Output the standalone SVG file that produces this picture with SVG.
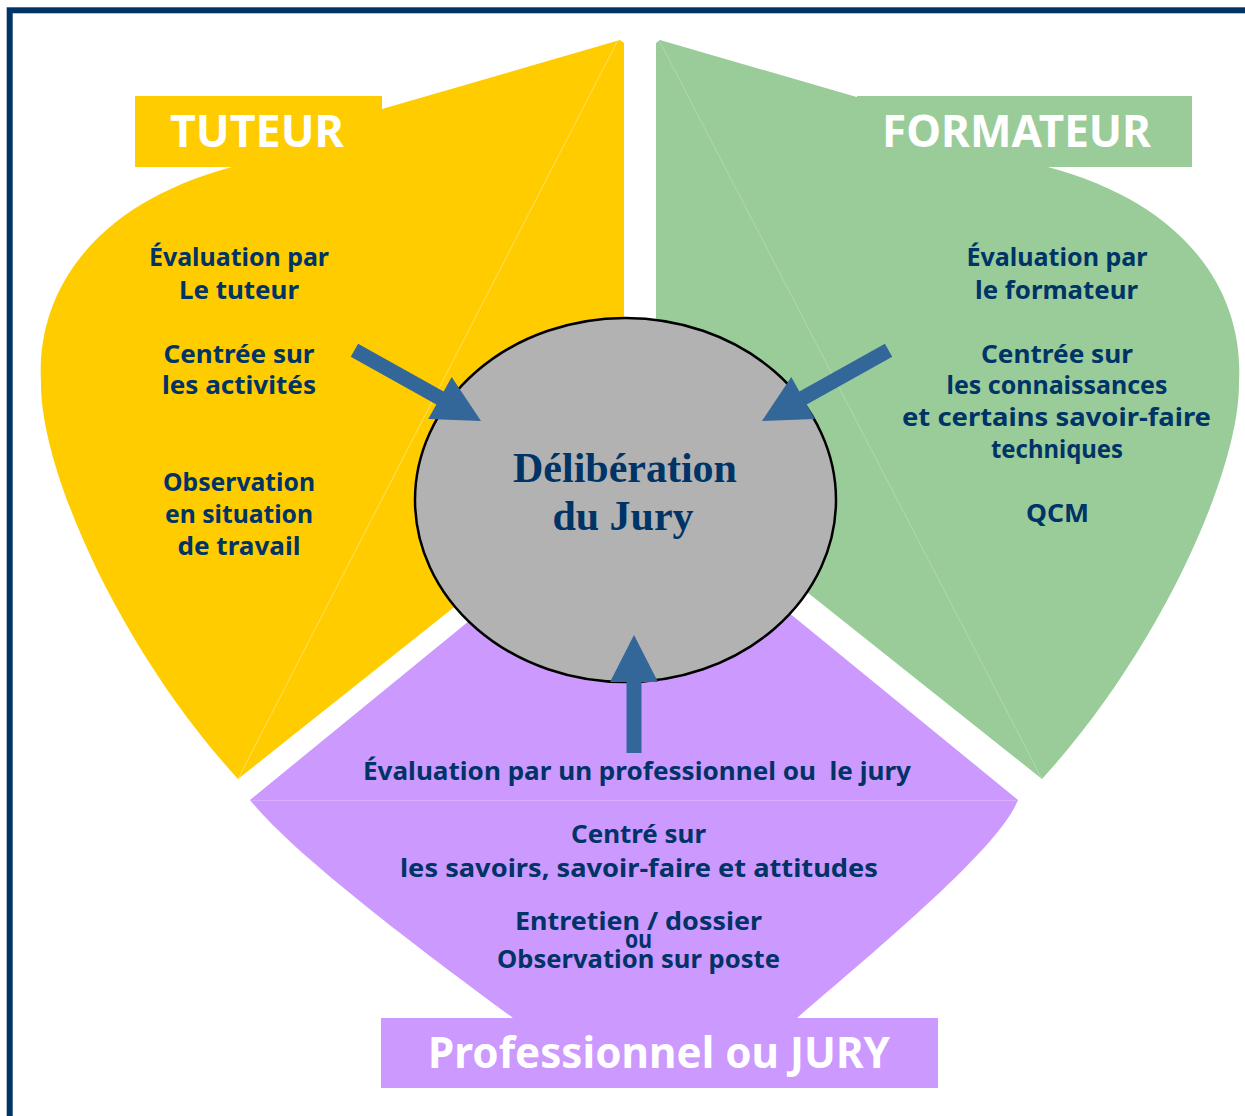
<svg xmlns="http://www.w3.org/2000/svg" width="1245" height="1116" viewBox="0 0 1245 1116">
  <defs>
    <style>
      .frame { fill: none; stroke: #003366; stroke-width: 6; }
      .tuteur { fill: #ffcc00; }
      .formateur { fill: #99cc99; }
      .jury { fill: #cc99ff; }
      .seam { fill: none; stroke-width: 0.8; }
      .body { font-family: "Noto Sans", "DejaVu Sans", sans-serif; font-weight: bold; font-size: 25px; fill: #003366; text-anchor: middle; }
      .label { font-family: "Noto Sans", "DejaVu Sans", sans-serif; font-weight: bold; fill: #ffffff; text-anchor: middle; }
      .title { font-family: "Liberation Serif", "Times New Roman", serif; font-weight: bold; font-size: 42px; fill: #003366; text-anchor: middle; }
      .arrow { fill: #336699; }
    </style>
  </defs>

  <rect width="1245" height="1116" fill="#ffffff"/>
  <!-- outer frame (right and bottom sides run off the page) -->
  <rect class="frame" x="9.7" y="10.3" width="1400" height="1300"/>

  <!-- TUTEUR petal -->
  <g id="tuteur">
    <path class="tuteur" d="M382,109 L620,40 L624,43 L624,472 L238,779 C120,650 40,470 41,382 C36,295 90,205 232,167 L382,167 Z"/>
    <line class="seam" x1="238" y1="779" x2="617" y2="42" stroke="#ffe27a"/>
    <rect class="tuteur" x="135" y="96" width="247" height="71"/>
    <text class="label" x="257" y="147" font-size="45" textLength="174" lengthAdjust="spacingAndGlyphs">TUTEUR</text>
    <text class="body" x="239" y="266" textLength="180" lengthAdjust="spacingAndGlyphs">Évaluation par</text>
    <text class="body" x="239" y="298.5" textLength="120" lengthAdjust="spacingAndGlyphs">Le tuteur</text>
    <text class="body" x="239" y="362.5" textLength="151" lengthAdjust="spacingAndGlyphs">Centrée sur</text>
    <text class="body" x="239" y="394" textLength="154" lengthAdjust="spacingAndGlyphs">les activités</text>
    <text class="body" x="239" y="491" textLength="152" lengthAdjust="spacingAndGlyphs">Observation</text>
    <text class="body" x="239" y="523" textLength="148" lengthAdjust="spacingAndGlyphs">en situation</text>
    <text class="body" x="239" y="555" textLength="123" lengthAdjust="spacingAndGlyphs">de travail</text>
  </g>

  <!-- FORMATEUR petal -->
  <g id="formateur">
    <path class="formateur" d="M898,109 L660,40 L656,43 L656,472 L1042,779 C1160,650 1240,470 1239,382 C1244,295 1190,205 1048,167 L898,167 Z"/>
    <line class="seam" x1="1042" y1="779" x2="660" y2="42" stroke="#b5dcb5"/>
    <rect class="formateur" x="857" y="96" width="335" height="71"/>
    <text class="label" x="1016.5" y="147" font-size="45" textLength="269" lengthAdjust="spacingAndGlyphs">FORMATEUR</text>
    <text class="body" x="1057" y="266" textLength="181" lengthAdjust="spacingAndGlyphs">Évaluation par</text>
    <text class="body" x="1056.5" y="298.5" textLength="163" lengthAdjust="spacingAndGlyphs">le formateur</text>
    <text class="body" x="1057" y="362.5" textLength="152" lengthAdjust="spacingAndGlyphs">Centrée sur</text>
    <text class="body" x="1057" y="394" textLength="221" lengthAdjust="spacingAndGlyphs">les connaissances</text>
    <text class="body" x="1056.5" y="426" textLength="309" lengthAdjust="spacingAndGlyphs">et certains savoir-faire</text>
    <text class="body" x="1057" y="458" textLength="132" lengthAdjust="spacingAndGlyphs">techniques</text>
    <text class="body" x="1057.5" y="522" textLength="63" lengthAdjust="spacingAndGlyphs">QCM</text>
  </g>

  <!-- Professionnel ou JURY petal -->
  <g id="jury">
    <path class="jury" d="M634,486 L250,800 C290,850 400,935 513,1018 L797,1018 C900,930 1000,845 1018,800 Z"/>
    <line class="seam" x1="252" y1="800.5" x2="1016" y2="800.5" stroke="#dab5ff"/>
    <rect class="jury" x="381" y="1018" width="557" height="70"/>
    <text class="label" x="659" y="1068" font-size="43" textLength="462" lengthAdjust="spacingAndGlyphs">Professionnel ou JURY</text>
    <text class="body" x="637" y="780" xml:space="preserve" textLength="548" lengthAdjust="spacingAndGlyphs">Évaluation par un professionnel ou  le jury</text>
    <text class="body" x="638.5" y="843" textLength="135" lengthAdjust="spacingAndGlyphs">Centré sur</text>
    <text class="body" x="639" y="877" textLength="478" lengthAdjust="spacingAndGlyphs">les savoirs, savoir-faire et attitudes</text>
    <text class="body" x="638.5" y="930" textLength="247" lengthAdjust="spacingAndGlyphs">Entretien / dossier</text>
    <text class="body" x="638.5" y="948" textLength="27" lengthAdjust="spacingAndGlyphs">ou</text>
    <text class="body" x="638.5" y="968" textLength="283" lengthAdjust="spacingAndGlyphs">Observation sur poste</text>
  </g>

  <!-- central deliberation node -->
  <g id="deliberation">
    <ellipse cx="625.5" cy="500" rx="210.5" ry="182" fill="#b2b2b2" stroke="#000000" stroke-width="2.5"/>
    <text class="title" x="625" y="482">Délibération</text>
    <text class="title" x="623" y="530">du Jury</text>
  </g>

  <!-- arrows into the deliberation -->
  <g id="connectors">
    <path class="arrow" transform="translate(481,421) rotate(29.2)" d="M0,0 L-47,-24 L-47,-7.5 L-145,-7.5 L-145,7.5 L-47,7.5 L-47,24 Z"/>
    <path class="arrow" transform="translate(762,421) rotate(150.8)" d="M0,0 L-47,-24 L-47,-7.5 L-145,-7.5 L-145,7.5 L-47,7.5 L-47,24 Z"/>
    <path class="arrow" transform="translate(634,635) rotate(-90)" d="M0,0 L-47,-24 L-47,-7.5 L-118,-7.5 L-118,7.5 L-47,7.5 L-47,24 Z"/>
  </g>
</svg>
